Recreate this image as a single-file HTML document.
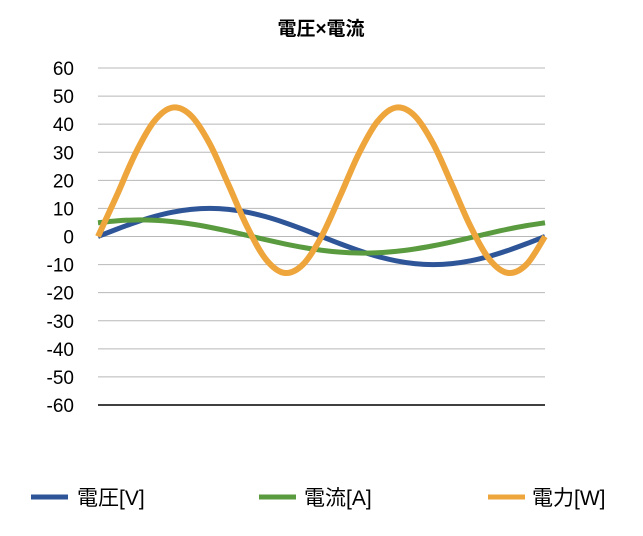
<!DOCTYPE html>
<html><head><meta charset="utf-8"><style>
body{margin:0;background:#fff;}
svg text{font-family:"Liberation Sans","Noto Sans CJK JP",sans-serif;}
</style></head><body>
<svg id="chart" width="643" height="531" xmlns="http://www.w3.org/2000/svg">
<text x="321" y="35" text-anchor="middle" font-size="19" font-weight="bold" fill="#000">電圧×電流</text>
<g id="grid"></g><g id="series"></g>
<g>
<g><line x1="31" y1="497" x2="68" y2="497" stroke="#2e5597" stroke-width="5"/><text x="77" y="505" font-size="21">電圧[V]</text></g>
<g><line x1="259" y1="497" x2="296" y2="497" stroke="#5b9b3f" stroke-width="5"/><text x="304" y="505" font-size="21">電流[A]</text></g>
<g><line x1="488" y1="497" x2="525" y2="497" stroke="#eea53c" stroke-width="5"/><text x="532" y="505" font-size="21">電力[W]</text></g>
</g>
</svg>
<script>
const ticks=[60,50,40,30,20,10,0,-10,-20,-30,-40,-50,-60];
const voltage=[0,2.59,5,7.07,8.66,9.66,10,9.66,8.66,7.07,5,2.59,0,-2.59,-5,-7.07,-8.66,-9.66,-10,-9.66,-8.66,-7.07,-5,-2.59,0];
const current=[4.89,5.58,5.89,5.79,5.30,4.45,3.30,1.92,0.41,-1.13,-2.59,-3.87,-4.89,-5.58,-5.89,-5.79,-5.30,-4.45,-3.30,-1.92,-0.41,1.13,2.59,3.87,4.89];
const power=[0,14.45,29.45,40.9,45.9,43.0,33.0,18.5,3.6,-8.0,-12.95,-10.0,0,14.45,29.45,40.9,45.9,43.0,33.0,18.5,3.6,-8.0,-12.95,-10.0,0];
const NS="http://www.w3.org/2000/svg";
const x0=98,x1=545,yTop=68,yBot=405;
function yS(v){return yTop+(60-v)/120*(yBot-yTop);}
function xS(i,n){return x0+i/(n-1)*(x1-x0);}
const grid=document.getElementById('grid');
ticks.forEach(t=>{
 const l=document.createElementNS(NS,'line');
 
 
 l.setAttribute('x1',x0);l.setAttribute('x2',x1);l.setAttribute('y1',yS(t));l.setAttribute('y2',yS(t));
 l.setAttribute('stroke',t===-60?'#000':'#b8b8b8');l.setAttribute('stroke-width',t===-60?1.5:1);
 grid.appendChild(l);
 const tx=document.createElementNS(NS,'text');
 
 
 tx.setAttribute('x',74);tx.setAttribute('y',yS(t)+7);tx.setAttribute('text-anchor','end');tx.setAttribute('font-size','19');
 tx.textContent=t;grid.appendChild(tx);
});
function path(vals){
 const p=vals.map((v,i)=>[xS(i,vals.length),yS(v)]);
 let d='M'+p[0][0]+','+p[0][1];
 for(let i=0;i<p.length-1;i++){
  const a=p[Math.max(0,i-1)],b=p[i],c=p[i+1],e=p[Math.min(p.length-1,i+2)];
  d+=' C'+(b[0]+(c[0]-a[0])/6)+','+(b[1]+(c[1]-a[1])/6)+' '+(c[0]-(e[0]-b[0])/6)+','+(c[1]-(e[1]-b[1])/6)+' '+c[0]+','+c[1];
 }
 return d;
}
const ser=document.getElementById('series');
[[voltage,'#2e5597',5,'voltage-line'],[current,'#5b9b3f',5,'current-line'],[power,'#eea53c',6,'power-line']].forEach(s=>{
 const el=document.createElementNS(NS,'path');
 
 
 el.setAttribute('d',path(s[0]));el.setAttribute('fill','none');el.setAttribute('stroke',s[1]);el.setAttribute('stroke-width',s[2]);
 ser.appendChild(el);
});
</script>
</body></html>
